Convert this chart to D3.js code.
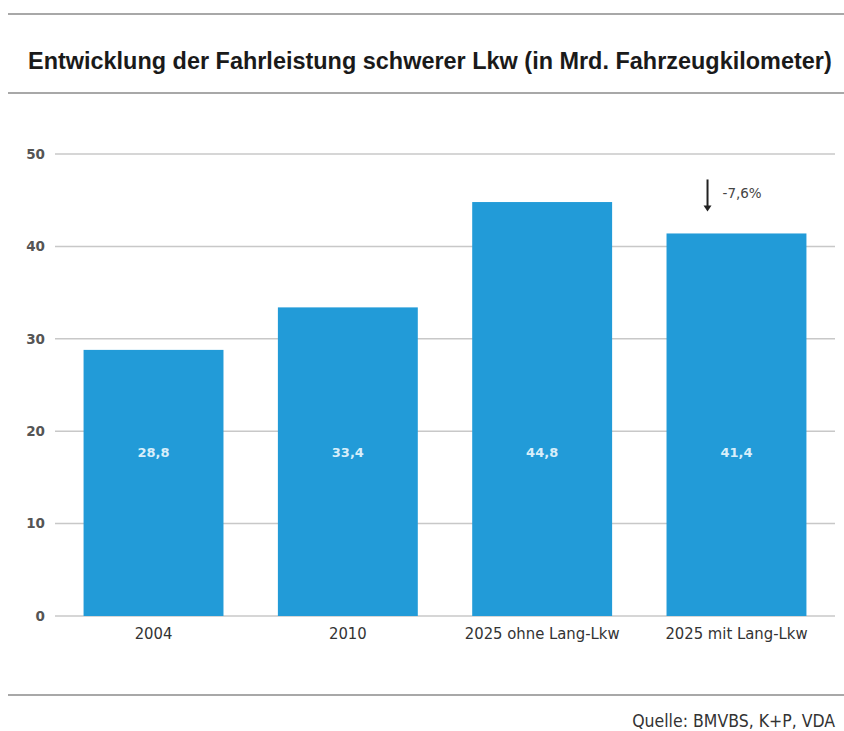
<!DOCTYPE html>
<html><head><meta charset="utf-8">
<script src="https://cdnjs.cloudflare.com/ajax/libs/d3/7.8.5/d3.min.js"></script>
<style>body{margin:0;background:#fff}svg{display:block}</style>
</head><body>
<script>
const categories = ["2004", "2010", "2025 ohne Lang-Lkw", "2025 mit Lang-Lkw"];
const values = [28.8, 33.4, 44.8, 41.4];
const valueLabels = ["28,8", "33,4", "44,8", "41,4"];
const yTicks = [0, 10, 20, 30, 40, 50];
const titleText = "Entwicklung der Fahrleistung schwerer Lkw (in Mrd. Fahrzeugkilometer)";
const sourceText = "Quelle: BMVBS, K+P, VDA";
const changeText = "-7,6%";

const W = 844, H = 731;
const svg = d3.select("body").append("svg").attr("width", W).attr("height", H);
const cond = "'Liberation Sans Narrow','DejaVu Sans Condensed','Roboto Condensed',sans-serif";

// rules
[14, 93, 695].forEach(yy => svg.append("line").attr("x1", 8).attr("x2", W).attr("y1", yy).attr("y2", yy)
  .attr("stroke", "#a8a8a8").attr("stroke-width", 2));

// title, horizontally condensed to fit the width
const titleG = svg.append("g").attr("transform", "translate(28,69)");
const title = titleG.append("text").attr("x", 0).attr("y", 0).text(titleText)
  .attr("font-family", "'Liberation Sans Narrow','Liberation Sans',sans-serif").attr("font-weight", "bold")
  .attr("font-size", 24).attr("fill", "#1a1a1a");
const natural = title.node().getComputedTextLength();
const targetW = 804;
if (natural > targetW) title.attr("transform", `scale(${targetW / natural},1)`);

const x = d3.scaleBand().domain(categories).range([55, 835]).paddingInner(0.28).paddingOuter(0.147);
const y = d3.scaleLinear().domain([0, 50]).range([616, 154]);

// grid
const g = svg.append("g");
g.selectAll("line.grid").data(yTicks).join("line").attr("class", "grid")
  .attr("x1", 55).attr("x2", 835).attr("y1", d => y(d)).attr("y2", d => y(d))
  .attr("stroke", "#c8c8c8").attr("stroke-width", 1.5);
g.selectAll("text.tick").data(yTicks).join("text").attr("class", "tick")
  .attr("x", 45).attr("y", d => y(d)).attr("dy", "0.35em").attr("text-anchor", "end")
  .attr("font-family", "'DejaVu Sans',sans-serif").attr("font-size", 13.5).attr("font-weight", 600).attr("fill", "#555")
  .text(d => d);

// bars
g.selectAll("rect.bar").data(values).join("rect").attr("class", "bar")
  .attr("x", (d, i) => x(categories[i])).attr("width", x.bandwidth())
  .attr("y", d => y(d)).attr("height", d => y(0) - y(d)).attr("fill", "#229bd8");

// value labels
g.selectAll("text.val").data(valueLabels).join("text").attr("class", "val")
  .attr("x", (d, i) => x(categories[i]) + x.bandwidth() / 2).attr("y", y(17.75)).attr("dy", "0.35em")
  .attr("text-anchor", "middle").attr("font-family", "'DejaVu Sans',sans-serif").attr("font-size", 13)
  .attr("font-weight", 600).attr("fill", "#d8eefa").text(d => d);

// category labels
g.selectAll("text.cat").data(categories).join("text").attr("class", "cat")
  .attr("x", d => x(d) + x.bandwidth() / 2).attr("y", 639)
  .attr("text-anchor", "middle").attr("font-family", cond).attr("font-size", 16.5).attr("fill", "#333")
  .text(d => d);

// change annotation
const lastCat = categories[3];
const ax = x(lastCat) + 41;
const aTop = y(values[3]) - 54, aBot = y(values[3]) - 22;
svg.append("line").attr("x1", ax).attr("x2", ax).attr("y1", aTop).attr("y2", aBot - 4)
  .attr("stroke", "#222").attr("stroke-width", 2);
svg.append("path").attr("d", `M${ax - 4},${aBot - 6} L${ax + 4},${aBot - 6} L${ax},${aBot} Z`).attr("fill", "#222");
svg.append("text").attr("x", ax + 15).attr("y", aTop + 19).text(changeText)
  .attr("font-family", "'DejaVu Sans',sans-serif").attr("font-size", 13.5).attr("fill", "#444");

svg.append("text").attr("x", 835).attr("y", 727).attr("text-anchor", "end").text(sourceText)
  .attr("font-family", cond).attr("font-size", 17.5).attr("fill", "#333");
</script>
</body></html>
